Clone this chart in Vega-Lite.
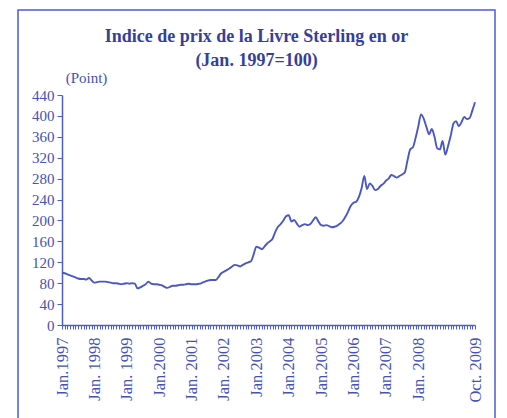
{
  "$schema": "https://vega.github.io/schema/vega-lite/v6.json",
  "autosize": "none",
  "padding": {"left": 18, "top": 10, "right": 12, "bottom": 0},
  "width": 477,
  "height": 415,
  "background": "white",
  "title": {
    "text": ["Indice de prix de la Livre Sterling en or", "(Jan. 1997=100)"],
    "font": "Liberation Serif",
    "fontSize": 18,
    "fontWeight": "bold",
    "color": "#35409a",
    "lineHeight": 24,
    "anchor": "middle",
    "offset": -60
  },
  "config": {
    "view": {"stroke": "#4a5cd0", "strokeWidth": 1.5},
    "axis": {
      "labelFont": "Liberation Serif",
      "labelColor": "#4352b4",
      "titleFont": "Liberation Serif",
      "titleFontSize": 15,
      "titleFontWeight": "normal",
      "titleColor": "#4352b4",
      "domainColor": "#4a5cd0",
      "tickColor": "#4a5cd0",
      "grid": false
    }
  },
  "data": {
    "values": [
      {"t": 0, "v": 100}, {"t": 1, "v": 99}, {"t": 2, "v": 97}, {"t": 3, "v": 95}, {"t": 4, "v": 93},
      {"t": 5, "v": 91}, {"t": 6, "v": 89}, {"t": 7, "v": 88}, {"t": 8, "v": 88}, {"t": 9, "v": 87},
      {"t": 10, "v": 90}, {"t": 11, "v": 85}, {"t": 12, "v": 81}, {"t": 13, "v": 82}, {"t": 14, "v": 83},
      {"t": 15, "v": 83}, {"t": 16, "v": 83}, {"t": 17, "v": 82}, {"t": 18, "v": 81}, {"t": 19, "v": 80},
      {"t": 20, "v": 80}, {"t": 21, "v": 79}, {"t": 22, "v": 78}, {"t": 23, "v": 79}, {"t": 24, "v": 80},
      {"t": 25, "v": 79}, {"t": 26, "v": 80}, {"t": 27, "v": 79}, {"t": 28, "v": 70}, {"t": 29, "v": 72},
      {"t": 30, "v": 75}, {"t": 31, "v": 78}, {"t": 32, "v": 83}, {"t": 33, "v": 79}, {"t": 34, "v": 78},
      {"t": 35, "v": 78}, {"t": 36, "v": 77}, {"t": 37, "v": 76}, {"t": 38, "v": 73}, {"t": 39, "v": 71},
      {"t": 40, "v": 73}, {"t": 41, "v": 75}, {"t": 42, "v": 75}, {"t": 43, "v": 76}, {"t": 44, "v": 77},
      {"t": 45, "v": 77}, {"t": 46, "v": 78}, {"t": 47, "v": 79}, {"t": 48, "v": 78}, {"t": 49, "v": 78},
      {"t": 50, "v": 78}, {"t": 51, "v": 79}, {"t": 52, "v": 81}, {"t": 53, "v": 83}, {"t": 54, "v": 85},
      {"t": 55, "v": 86}, {"t": 56, "v": 86}, {"t": 57, "v": 86}, {"t": 58, "v": 92}, {"t": 59, "v": 99},
      {"t": 60, "v": 102}, {"t": 61, "v": 105}, {"t": 62, "v": 108}, {"t": 63, "v": 112}, {"t": 64, "v": 115},
      {"t": 65, "v": 114}, {"t": 66, "v": 112}, {"t": 67, "v": 115}, {"t": 68, "v": 118}, {"t": 69, "v": 120},
      {"t": 70, "v": 122}, {"t": 71, "v": 135}, {"t": 72, "v": 150}, {"t": 73, "v": 148}, {"t": 74, "v": 145},
      {"t": 75, "v": 150}, {"t": 76, "v": 156}, {"t": 77, "v": 160}, {"t": 78, "v": 165}, {"t": 79, "v": 178},
      {"t": 80, "v": 188}, {"t": 81, "v": 193}, {"t": 82, "v": 200}, {"t": 83, "v": 208}, {"t": 84, "v": 210},
      {"t": 85, "v": 198}, {"t": 86, "v": 201}, {"t": 87, "v": 194}, {"t": 88, "v": 188}, {"t": 89, "v": 191},
      {"t": 90, "v": 193}, {"t": 91, "v": 191}, {"t": 92, "v": 193}, {"t": 93, "v": 200}, {"t": 94, "v": 206},
      {"t": 95, "v": 198}, {"t": 96, "v": 191}, {"t": 97, "v": 190}, {"t": 98, "v": 191}, {"t": 99, "v": 189},
      {"t": 100, "v": 187}, {"t": 101, "v": 188}, {"t": 102, "v": 190}, {"t": 103, "v": 194}, {"t": 104, "v": 199},
      {"t": 105, "v": 207}, {"t": 106, "v": 217}, {"t": 107, "v": 228}, {"t": 108, "v": 234}, {"t": 109, "v": 236},
      {"t": 110, "v": 245}, {"t": 111, "v": 262}, {"t": 112, "v": 285}, {"t": 113, "v": 260}, {"t": 114, "v": 271},
      {"t": 115, "v": 266}, {"t": 116, "v": 258}, {"t": 117, "v": 260}, {"t": 118, "v": 266}, {"t": 119, "v": 270},
      {"t": 120, "v": 276}, {"t": 121, "v": 280}, {"t": 122, "v": 287}, {"t": 123, "v": 285}, {"t": 124, "v": 282},
      {"t": 125, "v": 285}, {"t": 126, "v": 288}, {"t": 127, "v": 292}, {"t": 128, "v": 315}, {"t": 129, "v": 336},
      {"t": 130, "v": 340}, {"t": 131, "v": 358}, {"t": 132, "v": 380}, {"t": 133, "v": 403}, {"t": 134, "v": 395},
      {"t": 135, "v": 379}, {"t": 136, "v": 365}, {"t": 137, "v": 375}, {"t": 138, "v": 360}, {"t": 139, "v": 338},
      {"t": 140, "v": 336}, {"t": 141, "v": 352}, {"t": 142, "v": 326}, {"t": 143, "v": 342}, {"t": 144, "v": 362},
      {"t": 145, "v": 385}, {"t": 146, "v": 390}, {"t": 147, "v": 380}, {"t": 148, "v": 388}, {"t": 149, "v": 398},
      {"t": 150, "v": 394}, {"t": 151, "v": 396}, {"t": 152, "v": 410}, {"t": 153, "v": 426}
    ]
  },
  "mark": {"type": "line", "color": "#4b57c4", "strokeWidth": 1.9, "interpolate": "monotone"},
  "encoding": {
    "x": {
      "field": "t",
      "type": "quantitative",
      "scale": {"domain": [0, 153], "range": [44, 457], "nice": false, "zero": false},
      "axis": {
        "title": null,
        "offset": -100,
        "domainWidth": 1.5,
        "tickSize": 4,
        "tickWidth": 1,
        "labelFontSize": 16.5,
        "labelAngle": -90,
        "labelAlign": "right",
        "labelBaseline": "middle",
        "labelPadding": 8,
        "labelOverlap": false,
        "labelFlush": false,
        "values": [0,1,2,3,4,5,6,7,8,9,10,11,12,13,14,15,16,17,18,19,20,21,22,23,24,25,26,27,28,29,30,31,32,33,34,35,36,37,38,39,40,41,42,43,44,45,46,47,48,49,50,51,52,53,54,55,56,57,58,59,60,61,62,63,64,65,66,67,68,69,70,71,72,73,74,75,76,77,78,79,80,81,82,83,84,85,86,87,88,89,90,91,92,93,94,95,96,97,98,99,100,101,102,103,104,105,106,107,108,109,110,111,112,113,114,115,116,117,118,119,120,121,122,123,124,125,126,127,128,129,130,131,132,133,134,135,136,137,138,139,140,141,142,143,144,145,146,147,148,149,150,151,152,153],
        "labelExpr": "datum.value == 0 ? 'Jan.1997' : datum.value == 12 ? 'Jan. 1998' : datum.value == 24 ? 'Jan. 1999' : datum.value == 36 ? 'Jan.2000' : datum.value == 48 ? 'Jan. 2001' : datum.value == 60 ? 'Jan. 2002' : datum.value == 72 ? 'Jan.2003' : datum.value == 84 ? 'Jan.2004' : datum.value == 96 ? 'Jan.2005' : datum.value == 108 ? 'Jan.2006' : datum.value == 120 ? 'Jan.2007' : datum.value == 132 ? 'Jan. 2008' : datum.value == 153 ? 'Oct. 2009' : ''"
      }
    },
    "y": {
      "field": "v",
      "type": "quantitative",
      "scale": {"domain": [0, 440], "range": [315, 85], "nice": false},
      "axis": {
        "title": "(Point)",
        "titleAngle": 0,
        "titleAlign": "center",
        "titleBaseline": "middle",
        "titleX": 24,
        "titleY": 67,
        "offset": -44,
        "domainWidth": 1.5,
        "tickSize": 5,
        "labelFontSize": 15,
        "labelPadding": 3,
        "values": [0, 40, 80, 120, 160, 200, 240, 280, 320, 360, 400, 440]
      }
    }
  }
}
